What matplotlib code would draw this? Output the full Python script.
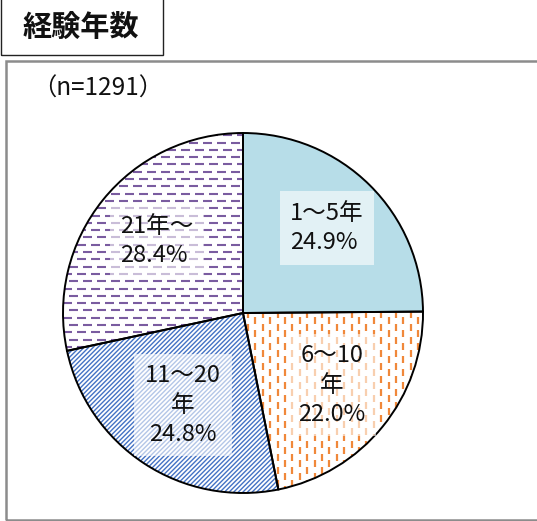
import numpy as np
import matplotlib
matplotlib.use("Agg")
import matplotlib.pyplot as plt
from matplotlib.collections import LineCollection
from matplotlib.patches import Rectangle

plt.rcParams['font.family'] = ['Noto Sans CJK JP', 'DejaVu Sans']

# data
title = "経験年数"
sample_note = "（n=1291）"
categories = ["1～5年", "6～10\n年", "11～20\n年", "21年～"]
shares = [24.9, 22.0, 24.8, 28.4]

W, H = 537, 521
fig = plt.figure(figsize=(W / 100, H / 100), dpi=100)
fig.patch.set_facecolor("white")

def fx(px):
    return px / W

def fy(py):
    return 1 - py / H

# frames
fig.patches.append(Rectangle((fx(5.5), fy(520)), fx(560), 459 / H,
                             transform=fig.transFigure, fill=False,
                             edgecolor="#8c8c8c", lw=1.8, zorder=0))
fig.patches.append(Rectangle((fx(1), fy(55)), fx(162), 60 / H,
                             transform=fig.transFigure, fill=False,
                             edgecolor="#222222", lw=1.0, zorder=0))
fig.text(fx(81), fy(27), title, ha="center", va="center",
         fontsize=21, fontweight="bold", color="#111111")
fig.text(fx(32), fy(89), sample_note, ha="left", va="center",
         fontsize=17.5, color="#111111")

# pie axes: center (243, 313) px, radius 180 px
cx, cy, r = 243, 313, 180
ax = fig.add_axes([fx(cx - r), fy(cy + r), 2 * r / W, 2 * r / H])

face = ["#B7DDE8", "white", "white", "white"]
wedges, _ = ax.pie(shares, startangle=90, counterclock=False, colors=face,
                   wedgeprops=dict(edgecolor="none", linewidth=0),
                   radius=1.0)
for w in wedges:
    w.set_zorder(1)

px = 1 / r  # one pixel in data units

def add_lines(segs, color, lw, wedge):
    lc = LineCollection(segs, colors=color, linewidths=lw, zorder=2)
    ax.add_collection(lc)
    lc.set_clip_path(wedge)

# orange vertical dashes
segs = []
for i, x in enumerate(np.arange(-1.0, 1.0, 7.4 * px)):
    off = (i % 2) * 6.5 * px
    for y in np.arange(-1.0 + off, 1.0, 13 * px):
        segs.append([(x, y), (x, y + 7 * px)])
add_lines(segs, "#F0883A", 1.6, wedges[1])

# blue diagonal hatch
segs = []
for c in np.arange(-2.2, 2.2, 4.6 * px):
    segs.append([(c - 1.2, -1.2), (c + 1.2, 1.2)])
add_lines(segs, "#4472C4", 1.0, wedges[2])

# purple horizontal dashes
segs = []
for j, y in enumerate(np.arange(-1.0, 1.0, 7.3 * px)):
    off = (j % 2) * 6 * px
    for x in np.arange(-1.0 + off, 1.0, 14 * px):
        segs.append([(x, y), (x + 9 * px, y)])
add_lines(segs, "#7A5CA0", 1.5, wedges[3])

# outlines on top of the fills
outl, _ = ax.pie(shares, startangle=90, counterclock=False,
                 wedgeprops=dict(fill=False, edgecolor="black", linewidth=1.4),
                 radius=1.0)
for w in outl:
    w.set_zorder(3)

ax.set_xlim(-1, 1)
ax.set_ylim(-1, 1)
ax.set_aspect("auto")
ax.axis("off")

# data labels, placed in pixel coordinates
label_pos = [(327, 228), (332, 385), (183, 405), (157, 241)]
aligns = ["left", "center", "center", "left"]
for cat, val, (lx, ly), al in zip(categories, shares, label_pos, aligns):
    txt = f"{cat}\n{val:.1f}%"
    dx = (lx - cx) / r
    dy = (cy - ly) / r
    ax.text(dx, dy, txt, ha="center", va="center", multialignment=al,
            fontsize=17, color="#111111", linespacing=1.35, zorder=5,
            bbox=dict(boxstyle="square,pad=0.45", facecolor="white",
                      alpha=0.6, edgecolor="none"))

fig.savefig("out.png", dpi=100, facecolor="white")
